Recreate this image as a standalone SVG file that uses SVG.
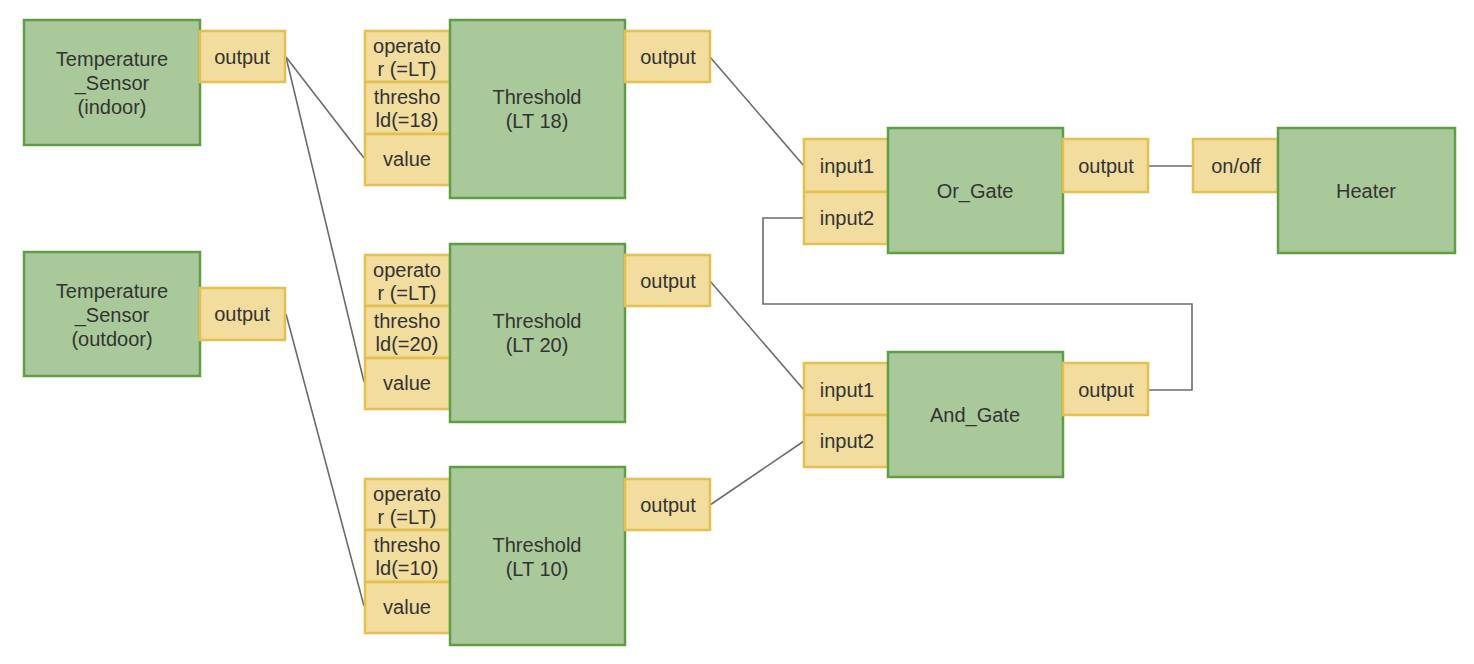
<svg xmlns="http://www.w3.org/2000/svg" width="1474" height="664" viewBox="0 0 1474 664">
<style>
.blk{fill:#a9c99a;stroke:#5f9e44;stroke-width:2.5}
.port{fill:#f2dc9e;stroke:#e3c052;stroke-width:2.5}
text{font-family:"Liberation Sans",Arial,sans-serif;font-size:20px;fill:#333;text-anchor:middle;dominant-baseline:central}
.con{fill:none;stroke:#6b6b6b;stroke-width:1.6}
</style>
<rect width="1474" height="664" fill="#fff"/>
<g id="connectors">
<line class="con" x1="286" y1="57" x2="364" y2="158"/>
<line class="con" x1="286" y1="57" x2="364" y2="382"/>
<line class="con" x1="286" y1="314" x2="364" y2="606"/>
<line class="con" x1="710" y1="57" x2="804" y2="166"/>
<line class="con" x1="710" y1="281" x2="804" y2="390"/>
<line class="con" x1="710" y1="505" x2="804" y2="441"/>
<line class="con" x1="1148" y1="166" x2="1193" y2="166"/>
<polyline class="con" points="1148,390 1192,390 1192,304 763,304 763,218 804,218"/>
</g>
<g id="sensor_indoor">
<rect class="blk" x="24" y="20" width="176" height="125"/>
<text x="112" y="59">Temperature</text><text x="112" y="83">_Sensor</text><text x="112" y="107">(indoor)</text>
<rect class="port" x="200" y="31" width="85" height="51"/><text x="242" y="57">output</text>
</g>
<g id="sensor_outdoor">
<rect class="blk" x="24" y="252" width="176" height="124"/>
<text x="112" y="291">Temperature</text><text x="112" y="315">_Sensor</text><text x="112" y="339">(outdoor)</text>
<rect class="port" x="200" y="288" width="85" height="52"/><text x="242" y="314">output</text>
</g>
<g id="threshold18">
<rect class="port" x="365" y="31" width="85" height="51"/><text x="407" y="46">operato</text><text x="407" y="69">r (=LT)</text>
<rect class="port" x="365" y="82" width="85" height="52"/><text x="407" y="97">thresho</text><text x="407" y="120">ld(=18)</text>
<rect class="port" x="365" y="134" width="85" height="51"/><text x="407" y="159">value</text>
<rect class="blk" x="450" y="20" width="175" height="178"/>
<text x="537" y="97">Threshold</text><text x="537" y="121">(LT 18)</text>
<rect class="port" x="625" y="31" width="85" height="51"/><text x="668" y="57">output</text>
</g>
<g id="threshold20">
<rect class="port" x="365" y="255" width="85" height="51"/><text x="407" y="270">operato</text><text x="407" y="293">r (=LT)</text>
<rect class="port" x="365" y="306" width="85" height="52"/><text x="407" y="321">thresho</text><text x="407" y="344">ld(=20)</text>
<rect class="port" x="365" y="358" width="85" height="51"/><text x="407" y="383">value</text>
<rect class="blk" x="450" y="244" width="175" height="178"/>
<text x="537" y="321">Threshold</text><text x="537" y="345">(LT 20)</text>
<rect class="port" x="625" y="255" width="85" height="51"/><text x="668" y="281">output</text>
</g>
<g id="threshold10">
<rect class="port" x="365" y="479" width="85" height="51"/><text x="407" y="494">operato</text><text x="407" y="517">r (=LT)</text>
<rect class="port" x="365" y="530" width="85" height="52"/><text x="407" y="545">thresho</text><text x="407" y="568">ld(=10)</text>
<rect class="port" x="365" y="582" width="85" height="51"/><text x="407" y="607">value</text>
<rect class="blk" x="450" y="467" width="175" height="178"/>
<text x="537" y="545">Threshold</text><text x="537" y="569">(LT 10)</text>
<rect class="port" x="625" y="479" width="85" height="51"/><text x="668" y="505">output</text>
</g>
<g id="or_gate">
<rect class="port" x="804" y="139" width="84" height="53"/><text x="847" y="166">input1</text>
<rect class="port" x="804" y="192" width="84" height="52"/><text x="847" y="218">input2</text>
<rect class="blk" x="888" y="128" width="175" height="125"/>
<text x="975" y="191">Or_Gate</text>
<rect class="port" x="1063" y="139" width="85" height="53"/><text x="1106" y="166">output</text>
</g>
<g id="and_gate">
<rect class="port" x="804" y="363" width="84" height="52"/><text x="847" y="390">input1</text>
<rect class="port" x="804" y="415" width="84" height="52"/><text x="847" y="441">input2</text>
<rect class="blk" x="888" y="352" width="175" height="125"/>
<text x="975" y="415">And_Gate</text>
<rect class="port" x="1063" y="363" width="85" height="52"/><text x="1106" y="390">output</text>
</g>
<g id="heater">
<rect class="port" x="1193" y="139" width="85" height="53"/><text x="1236" y="166">on/off</text>
<rect class="blk" x="1278" y="128" width="177" height="125"/>
<text x="1366" y="191">Heater</text>
</g>
</svg>
